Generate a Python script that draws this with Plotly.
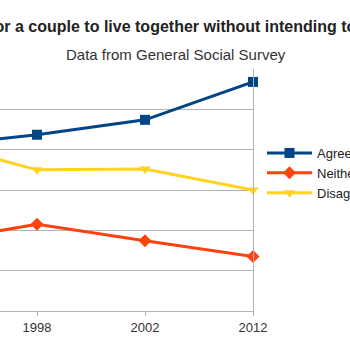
import plotly.graph_objects as go

years = ["1994", "1998", "2002", "2012"]
agree = [40.8, 43.7, 47.4, 56.8]
neither = [16.9, 21.5, 17.4, 13.5]
disagree = [42.2, 35.0, 35.2, 30.0]
series_names = ["Agree", "Neither", "Disagree"]
title_text = "It is all right for a couple to live together without intending to get married"
subtitle_text = "Data from General Social Survey"

W, H = 350, 350
ML, MR, MT, MB = 0, 97, 69, 39
PW = W - ML - MR
PH = H - MT - MB

fig = go.Figure()
styles = [
    (agree, "#004586", "square", 10),
    (neither, "#ff420e", "diamond", 10),
    (disagree, "#ffd320", "triangle-down", 10),
]
for name, (vals, color, sym, size) in zip(series_names, styles):
    fig.add_trace(go.Scatter(
        x=years, y=vals, name=name, mode="lines+markers",
        line=dict(color=color, width=3),
        marker=dict(symbol=sym, size=size, color=color),
        cliponaxis=False,
    ))

fig.update_layout(
    width=W, height=H,
    margin=dict(l=ML, r=MR, t=MT, b=MB, pad=0, autoexpand=False),
    paper_bgcolor="white", plot_bgcolor="white",
    font=dict(family="Liberation Sans, Arial, sans-serif", color="#333333"),
    showlegend=True,
    legend=dict(x=(262 - ML) / PW, xanchor="left", y=(H - MB - 173) / PH, yanchor="middle",
                font=dict(size=13, color="#222222"), bgcolor="rgba(0,0,0,0)",
                tracegroupgap=0, itemwidth=45),
    xaxis=dict(type="category", range=[3 - PW / 108.0, 3],
               showgrid=False, showline=True, linecolor="#b3b3b3", linewidth=1,
               ticks="outside", ticklen=4, tickcolor="#b3b3b3",
               tickfont=dict(size=13, color="#333333"), zeroline=False),
    yaxis=dict(range=[0, 60], dtick=10, showgrid=True, gridcolor="#b3b3b3",
               gridwidth=1, showticklabels=False, zeroline=False,
               showline=True, linecolor="#b3b3b3", side="right", ticks=""),
    annotations=[
        dict(text="<b>" + title_text + "</b>", xref="paper", yref="paper",
             x=-107 / PW, xanchor="left", y=(H - MB - 27) / PH,
             yanchor="middle", showarrow=False,
             font=dict(size=16, color="#222222")),
        dict(text=subtitle_text, xref="paper", yref="paper",
             x=176 / PW, xanchor="center", y=(H - MB - 55) / PH,
             yanchor="middle", showarrow=False,
             font=dict(size=15, color="#333333")),
    ],
)

fig.write_html("out.html")
